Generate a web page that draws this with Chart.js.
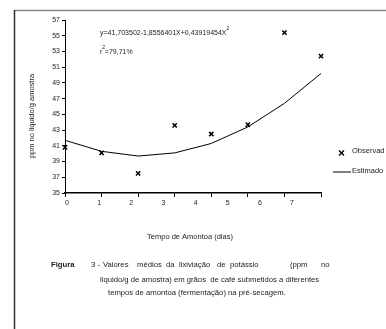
<!DOCTYPE html>
<html><head><meta charset="utf-8">
<script src="https://cdn.jsdelivr.net/npm/chart.js@4/dist/chart.umd.min.js"></script>
<style>
html,body{margin:0;padding:0;background:#fff;}
#wrap{position:relative;width:386px;height:329px;overflow:hidden;font-family:"Liberation Sans",Arial,sans-serif;}
canvas{position:absolute;left:0;top:0;}
.cap{position:absolute;font-size:7.7px;color:#222;white-space:nowrap;line-height:9px;}
</style></head>
<body><div id="wrap">
<canvas id="c" width="386" height="329"></canvas>
<div class="cap" style="left:51px;top:260px;font-weight:bold;">Figura</div>
<div class="cap" style="left:91px;top:260px;">3 -&nbsp;</div>
<div class="cap" style="left:103px;top:260px;">Valores</div>
<div class="cap" style="left:137px;top:260px;">médios</div>
<div class="cap" style="left:166px;top:260px;">da</div>
<div class="cap" style="left:179px;top:260px;">lixiviação</div>
<div class="cap" style="left:217px;top:260px;">de</div>
<div class="cap" style="left:230px;top:260px;">potássio</div>
<div class="cap" style="left:290px;top:260px;">(ppm</div>
<div class="cap" style="left:321px;top:260px;">no</div>
<div class="cap" style="left:100px;top:275px;">liquido/g de amostra) em grãos&nbsp; de café submetidos a diferentes</div>
<div class="cap" style="left:108px;top:288px;">tempos de amontoa (fermentação) na pré-secagem.</div>
</div>
<script>
const xValues = [0, 1, 2, 3, 4, 5, 6, 7];
const observed = [40.8, 40.1, 37.5, 43.6, 42.5, 43.7, 55.4, 52.4];
const estimated = [41.7, 40.3, 39.7, 40.1, 41.3, 43.4, 46.4, 50.2];
const xTickLabels = [0, 1, 2, 3, 4, 5, 6, 7];
const yTicks = [35, 37, 39, 41, 43, 45, 47, 49, 51, 53, 55, 57];
const seriesNames = ['Observad', 'Estimado'];
const yTitle = 'ppm no liquido/g amostra';
const xTitle = 'Tempo de Amontoa (dias)';
const eqText = 'y=41,703502-1,8556401X+0,43919454X';
const r2Text = '=79,71%';

const FONT = '"Liberation Sans", Arial, sans-serif';

const deco = {
  id: 'deco',
  afterDraw(chart) {
    const ctx = chart.ctx;
    ctx.save();
    // frame
    ctx.strokeStyle = '#8a8a8a'; ctx.lineWidth = 1.5;
    ctx.beginPath(); ctx.moveTo(14, 10.5); ctx.lineTo(386, 10.5); ctx.stroke();
    ctx.strokeStyle = '#333'; ctx.lineWidth = 1.5;
    ctx.beginPath(); ctx.moveTo(14.5, 10); ctx.lineTo(14.5, 329); ctx.stroke();
    ctx.fillStyle = '#222';
    // equation
    ctx.font = '7px ' + FONT; ctx.textBaseline = 'middle'; ctx.textAlign = 'left';
    ctx.fillText(eqText, 100, 33);
    const w = ctx.measureText(eqText).width;
    ctx.font = '5px ' + FONT; ctx.fillText('2', 100 + w, 29);
    ctx.font = '7px ' + FONT; ctx.fillText('r', 100, 52);
    const rw = ctx.measureText('r').width;
    ctx.font = '5px ' + FONT; ctx.fillText('2', 100 + rw, 48);
    ctx.font = '7px ' + FONT; ctx.fillText(r2Text, 100 + rw + 2.5, 52);
    // axis titles
    ctx.font = '7.5px ' + FONT; ctx.textAlign = 'center';
    ctx.fillText(xTitle, 190, 237);
    ctx.save(); ctx.translate(32, 116); ctx.rotate(-Math.PI / 2);
    ctx.fillText(yTitle, 0, 0); ctx.restore();
    // legend
    ctx.textAlign = 'left';
    ctx.fillText(seriesNames[0], 352, 151);
    ctx.fillText(seriesNames[1], 352, 171);
    ctx.strokeStyle = '#000'; ctx.lineWidth = 1;
    ctx.beginPath(); ctx.moveTo(333, 172); ctx.lineTo(351, 172); ctx.stroke();
    ctx.lineWidth = 1.4;
    ctx.beginPath();
    ctx.moveTo(339, 150.5); ctx.lineTo(344, 155.5);
    ctx.moveTo(344, 150.5); ctx.lineTo(339, 155.5);
    ctx.stroke();
    ctx.restore();
  }
};

new Chart(document.getElementById('c'), {
  type: 'scatter',
  data: {
    datasets: [
      {
        label: seriesNames[0],
        data: xValues.map((x, i) => ({ x, y: observed[i] })),
        xAxisID: 'x', yAxisID: 'y',
        showLine: false, clip: false,
        pointStyle: 'crossRot', pointRadius: 3, pointBorderWidth: 1.5,
        borderColor: '#000', backgroundColor: '#000'
      },
      {
        label: seriesNames[1],
        data: xValues.map((x, i) => ({ x, y: estimated[i] })),
        xAxisID: 'x', yAxisID: 'y',
        showLine: true, pointRadius: 0, borderWidth: 1, clip: false,
        borderColor: '#000', tension: 0
      }
    ]
  },
  options: {
    responsive: false, animation: false, devicePixelRatio: 1,
    layout: { padding: { left: 0, top: 20, right: 65, bottom: 111 } },
    plugins: { legend: { display: false }, tooltip: { enabled: false } },
    scales: {
      y: {
        type: 'linear', min: 35, max: 57,
        afterFit: s => { s.width = 65; },
        afterBuildTicks: s => { s.ticks = yTicks.map(v => ({ value: v })); },
        ticks: { font: { family: FONT, size: 7 }, color: '#222', padding: 2 },
        grid: { drawOnChartArea: false, drawTicks: true, tickLength: 3, color: '#000' },
        border: { display: true, color: '#000', width: 1 }
      },
      x: {
        type: 'linear', position: 'bottom', min: 0, max: 7, weight: 0,
        afterFit: s => { s.height = 5; },
        afterBuildTicks: s => { s.ticks = xValues.map(v => ({ value: v })); },
        ticks: { display: false },
        grid: { drawOnChartArea: false, drawTicks: true, tickLength: 4, color: '#000' },
        border: { display: true, color: '#000', width: 1.5 }
      },
      xl: {
        type: 'linear', position: 'bottom', min: -0.06, max: 7.9, weight: 1,
        afterFit: s => { s.height = 20; },
        afterBuildTicks: s => { s.ticks = xTickLabels.map(v => ({ value: v })); },
        ticks: { font: { family: FONT, size: 7 }, color: '#222', padding: -7, autoSkip: false, maxRotation: 0 },
        grid: { display: false },
        border: { display: false }
      }
    }
  },
  plugins: [deco]
});
</script>
</body></html>
